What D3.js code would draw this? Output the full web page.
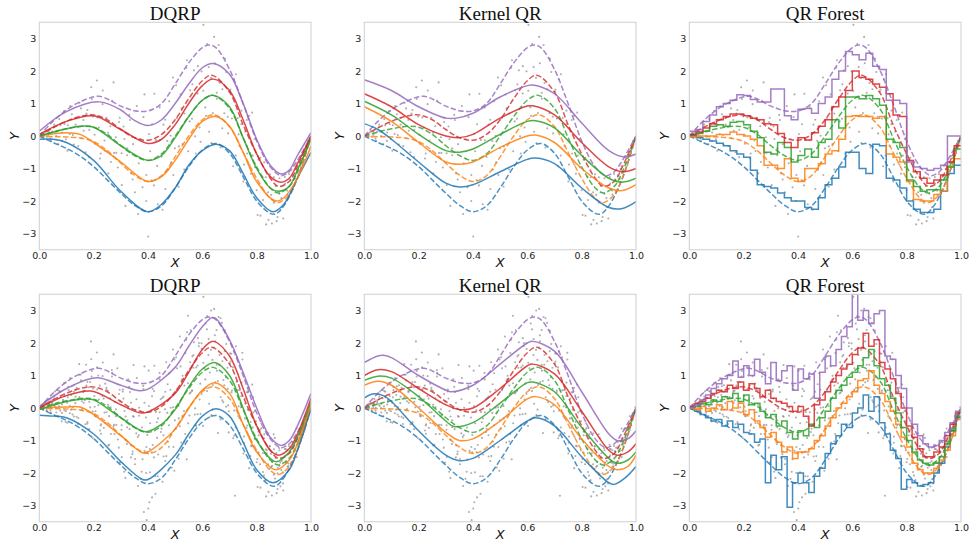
<!DOCTYPE html>
<html lang="en">
<head>
<meta charset="UTF-8">
<title>Quantile regression comparison</title>
<script src="https://cdn.jsdelivr.net/npm/d3@7"></script>
<style>
  body { margin: 0; background: #fff; }
</style>
</head>
<body>
<svg id="chart" width="969" height="544"></svg>
<script>
const taus = [0.05, 0.25, 0.5, 0.75, 0.95];
const colors = ['#1f77b4', '#ff7f0e', '#2ca02c', '#d62728', '#9467bd'];
const methods = ['DQRP', 'Kernel QR', 'QR Forest'];
const xTicks = [0, 0.2, 0.4, 0.6, 0.8, 1.0];
const yTicks = [-3, -2, -1, 0, 1, 2, 3];

// true conditional quantiles (dashed), one per tau
const truth = [
  [[0,0],[0.05,-0.2],[0.1,-0.38],[0.15,-0.62],[0.2,-0.94],[0.25,-1.35],[0.3,-1.76],[0.35,-2.13],[0.4,-2.33],[0.45,-2.15],[0.5,-1.6],[0.55,-0.95],[0.6,-0.43],[0.65,-0.23],[0.7,-0.53],[0.75,-1.25],[0.8,-2.0],[0.85,-2.38],[0.87,-2.4],[0.9,-2.15],[0.95,-1.3],[1,0]],
  [[0,0],[0.05,-0.02],[0.1,-0.03],[0.15,-0.06],[0.2,-0.17],[0.25,-0.45],[0.3,-0.84],[0.35,-1.2],[0.4,-1.4],[0.45,-1.22],[0.5,-0.64],[0.55,0.0],[0.6,0.5],[0.645,0.65],[0.7,0.29],[0.75,-0.5],[0.8,-1.3],[0.85,-1.92],[0.88,-2.05],[0.92,-1.8],[0.95,-1.3],[1,0]],
  [[0,0],[0.05,0.12],[0.1,0.22],[0.16,0.3],[0.2,0.27],[0.25,0.05],[0.3,-0.3],[0.35,-0.6],[0.4,-0.75],[0.45,-0.55],[0.5,0.0],[0.55,0.6],[0.6,1.1],[0.64,1.25],[0.7,0.85],[0.75,-0.05],[0.8,-0.95],[0.85,-1.6],[0.88,-1.75],[0.92,-1.55],[0.95,-1.1],[1,0]],
  [[0,0],[0.05,0.25],[0.1,0.45],[0.15,0.6],[0.2,0.65],[0.25,0.5],[0.3,0.2],[0.35,-0.05],[0.4,-0.13],[0.45,0.05],[0.5,0.5],[0.55,1.15],[0.6,1.7],[0.635,1.87],[0.7,1.35],[0.75,0.35],[0.8,-0.55],[0.85,-1.3],[0.88,-1.55],[0.92,-1.4],[0.95,-0.95],[1,0]],
  [[0,0],[0.05,0.45],[0.1,0.8],[0.15,1.05],[0.22,1.22],[0.3,0.92],[0.35,0.78],[0.4,0.77],[0.45,1.0],[0.5,1.6],[0.55,2.25],[0.6,2.72],[0.625,2.8],[0.65,2.72],[0.7,2.05],[0.75,1.0],[0.8,-0.15],[0.85,-0.95],[0.89,-1.22],[0.92,-1.1],[0.95,-0.75],[1,0]]
];

// DQRP estimates
const dqrpTop = [
  [[0,-0.1],[0.05,-0.1],[0.1,-0.2],[0.2,-0.75],[0.3,-1.7],[0.4,-2.33],[0.45,-2.1],[0.5,-1.6],[0.55,-0.9],[0.6,-0.45],[0.65,-0.25],[0.7,-0.45],[0.75,-1.15],[0.8,-1.9],[0.86,-2.33],[0.9,-2.1],[0.95,-1.3],[1,-0.5]],
  [[0,0.0],[0.1,0.1],[0.15,0.05],[0.2,-0.2],[0.3,-0.8],[0.4,-1.4],[0.45,-1.25],[0.5,-0.75],[0.55,-0.1],[0.6,0.45],[0.65,0.6],[0.7,0.3],[0.75,-0.5],[0.8,-1.4],[0.87,-2.0],[0.9,-1.9],[0.95,-1.3],[1,-0.3]],
  [[0,0.0],[0.1,0.22],[0.15,0.3],[0.2,0.27],[0.3,-0.3],[0.4,-0.75],[0.45,-0.6],[0.5,-0.05],[0.55,0.6],[0.6,1.1],[0.64,1.25],[0.7,0.9],[0.75,-0.05],[0.8,-1.0],[0.85,-1.6],[0.88,-1.7],[0.92,-1.55],[0.95,-1.05],[1,-0.1]],
  [[0,0.05],[0.1,0.45],[0.2,0.62],[0.3,0.2],[0.4,-0.23],[0.45,-0.1],[0.5,0.35],[0.55,1.0],[0.6,1.55],[0.64,1.75],[0.7,1.4],[0.75,0.5],[0.8,-0.55],[0.85,-1.25],[0.89,-1.42],[0.92,-1.3],[0.95,-0.85],[1,0.0]],
  [[0,0.15],[0.1,0.75],[0.22,1.05],[0.3,0.8],[0.35,0.48],[0.4,0.32],[0.45,0.5],[0.5,1.0],[0.55,1.6],[0.6,2.1],[0.64,2.23],[0.7,1.9],[0.75,1.0],[0.8,-0.1],[0.85,-0.9],[0.89,-1.17],[0.92,-1.05],[0.95,-0.6],[1,0.1]]
];
const dqrpBottom = [
  [[0,-0.22],[0.05,-0.25],[0.1,-0.3],[0.2,-0.8],[0.3,-1.65],[0.38,-2.2],[0.4,-2.2],[0.5,-1.45],[0.55,-0.8],[0.6,-0.25],[0.65,-0.02],[0.7,-0.25],[0.75,-1.05],[0.8,-1.9],[0.86,-2.3],[0.92,-1.9],[0.95,-1.3],[1,0.0]],
  [[0,0.0],[0.1,0.03],[0.15,0.03],[0.2,-0.2],[0.3,-0.85],[0.38,-1.38],[0.4,-1.35],[0.5,-0.65],[0.55,0.0],[0.6,0.55],[0.645,0.78],[0.7,0.45],[0.75,-0.5],[0.8,-1.35],[0.87,-1.9],[0.92,-1.6],[0.95,-1.1],[1,0.1]],
  [[0,-0.05],[0.1,0.2],[0.17,0.28],[0.2,0.25],[0.3,-0.3],[0.39,-0.73],[0.45,-0.5],[0.5,-0.05],[0.55,0.65],[0.6,1.2],[0.645,1.4],[0.7,1.0],[0.75,0.0],[0.8,-1.0],[0.87,-1.65],[0.92,-1.35],[0.95,-0.9],[1,0.2]],
  [[0,0.0],[0.1,0.38],[0.19,0.52],[0.3,0.1],[0.37,-0.15],[0.4,-0.12],[0.5,0.45],[0.55,1.1],[0.6,1.8],[0.64,2.05],[0.7,1.6],[0.75,0.6],[0.8,-0.55],[0.85,-1.3],[0.88,-1.45],[0.92,-1.25],[0.95,-0.8],[1,0.3]],
  [[0,0.05],[0.1,0.6],[0.21,0.93],[0.3,0.7],[0.37,0.53],[0.4,0.58],[0.5,1.25],[0.55,1.9],[0.6,2.5],[0.635,2.78],[0.65,2.75],[0.7,2.1],[0.75,1.1],[0.8,0.0],[0.85,-0.9],[0.89,-1.15],[0.92,-1.0],[0.95,-0.55],[1,0.45]]
];

// Kernel QR estimates
const kernelTop = [
  [[0,0.38],[0.05,0.2],[0.1,-0.1],[0.2,-0.8],[0.3,-1.45],[0.35,-1.57],[0.4,-1.5],[0.5,-1.1],[0.6,-0.72],[0.63,-0.68],[0.7,-0.85],[0.8,-1.6],[0.9,-2.2],[0.95,-2.23],[1,-2.02]],
  [[0,0.9],[0.1,0.45],[0.2,-0.2],[0.3,-0.8],[0.35,-0.87],[0.4,-0.8],[0.5,-0.35],[0.6,0.0],[0.63,0.03],[0.7,-0.2],[0.8,-1.0],[0.9,-1.6],[0.95,-1.68],[1,-1.5]],
  [[0,1.07],[0.1,0.65],[0.2,0.05],[0.3,-0.45],[0.35,-0.5],[0.4,-0.4],[0.5,0.05],[0.6,0.45],[0.63,0.47],[0.7,0.25],[0.8,-0.6],[0.9,-1.3],[0.95,-1.42],[1,-1.3]],
  [[0,1.3],[0.1,0.9],[0.2,0.35],[0.3,0.0],[0.35,-0.05],[0.4,0.05],[0.5,0.55],[0.6,0.92],[0.62,0.93],[0.7,0.65],[0.8,-0.2],[0.9,-0.95],[0.95,-1.1],[1,-1.0]],
  [[0,1.73],[0.1,1.4],[0.2,0.9],[0.3,0.55],[0.34,0.55],[0.4,0.7],[0.5,1.2],[0.6,1.55],[0.62,1.57],[0.7,1.3],[0.8,0.4],[0.9,-0.45],[0.96,-0.65],[1,-0.55]]
];
const kernelBottom = [
  [[0,0.3],[0.03,0.43],[0.07,0.38],[0.1,0.2],[0.2,-0.7],[0.3,-1.45],[0.35,-1.62],[0.4,-1.55],[0.5,-1.0],[0.6,-0.4],[0.63,-0.3],[0.7,-0.55],[0.8,-1.5],[0.9,-2.3],[0.92,-2.35],[0.96,-2.15],[1,-1.8]],
  [[0,0.7],[0.05,0.82],[0.1,0.7],[0.2,0.0],[0.3,-0.75],[0.35,-1.0],[0.4,-0.95],[0.5,-0.4],[0.6,0.28],[0.63,0.35],[0.7,0.1],[0.8,-0.95],[0.9,-1.8],[0.93,-1.9],[0.97,-1.8],[1,-1.45]],
  [[0,0.85],[0.05,0.98],[0.1,0.92],[0.2,0.35],[0.3,-0.4],[0.33,-0.57],[0.4,-0.45],[0.5,0.15],[0.6,0.78],[0.62,0.8],[0.7,0.5],[0.8,-0.6],[0.9,-1.55],[0.93,-1.7],[0.97,-1.6],[1,-1.35]],
  [[0,1.0],[0.05,1.18],[0.1,1.12],[0.2,0.6],[0.3,0.1],[0.35,-0.05],[0.4,0.0],[0.5,0.6],[0.6,1.3],[0.62,1.35],[0.7,1.05],[0.8,-0.1],[0.9,-1.3],[0.93,-1.45],[0.97,-1.35],[1,-1.1]],
  [[0,1.4],[0.05,1.6],[0.07,1.62],[0.1,1.55],[0.2,1.0],[0.3,0.55],[0.32,0.5],[0.4,0.7],[0.5,1.35],[0.6,2.0],[0.62,2.05],[0.7,1.75],[0.8,0.5],[0.9,-0.8],[0.93,-1.0],[0.97,-0.95],[1,-0.7]]
];

// QR Forest step estimates, top row: 40 bins of width 0.025
const forestTop = [
  [0.0,-0.05,-0.1,-0.15,-0.22,-0.3,-0.45,-0.55,-0.65,-1.05,-1.5,-1.55,-1.6,-1.75,-1.9,-2.0,-2.0,-2.2,-2.25,-1.9,-1.5,-1.3,-0.95,-0.5,-0.5,-1.0,-1.15,-0.25,-0.3,-1.3,-1.35,-1.6,-2.0,-2.25,-2.35,-2.35,-2.25,-1.7,-1.15,-0.9],
  [-0.02,0.0,0.0,0.0,0.05,0.05,0.12,0.05,0.0,-0.1,-0.3,-0.9,-0.9,-1.0,-0.7,-1.3,-1.4,-1.0,-1.0,-0.85,-0.55,-0.45,-0.1,0.6,0.62,0.6,0.6,0.55,0.6,-0.55,-0.65,-0.8,-1.4,-1.95,-2.0,-2.0,-1.8,-1.7,-0.95,-0.7],
  [0.02,0.08,0.15,0.3,0.35,0.3,0.42,0.45,0.35,0.15,-0.05,-0.5,-0.55,-0.2,-0.35,-0.8,-0.6,-0.4,-0.65,-0.2,-0.1,0.5,0.25,1.2,1.2,1.15,1.25,1.15,0.95,-0.1,-0.2,-0.35,-1.35,-1.55,-1.7,-1.65,-1.65,-1.35,-0.95,-0.4],
  [0.05,0.12,0.25,0.38,0.5,0.6,0.68,0.68,0.62,0.55,0.5,0.38,0.35,0.08,-0.2,-0.35,-0.05,-0.12,0.1,0.3,0.5,0.9,1.2,1.4,2.0,1.8,1.75,1.6,1.5,1.3,0.65,0.6,-0.75,-1.1,-1.3,-1.45,-1.35,-1.2,-0.8,-0.3],
  [0.15,0.2,0.45,0.65,0.9,1.0,1.1,1.27,1.25,1.12,1.05,1.05,1.45,1.45,0.62,0.5,0.82,0.85,0.7,1.0,1.2,1.75,2.0,2.6,2.5,2.35,2.55,2.15,2.05,1.1,1.1,1.0,-0.8,-0.95,-1.0,-1.05,-1.0,-0.9,0.0,0.0]
];
// QR Forest step estimates, bottom row: 50 bins of width 0.02
const forestBottom = [
  [0.0,-0.1,-0.2,-0.3,-0.4,-0.35,-0.55,-0.4,-0.6,-0.5,-0.75,-0.8,-1.05,-0.95,-2.3,-1.45,-1.9,-1.5,-3.05,-2.3,-2.0,-2.3,-2.6,-2.1,-1.85,-1.4,-1.1,-0.85,-0.5,-0.6,-0.15,0.0,0.4,-0.1,0.35,-0.45,-0.8,-1.3,-1.55,-2.5,-2.2,-2.3,-2.4,-2.35,-2.3,-2.0,-1.7,-1.2,-0.7,-0.3],
  [0.0,-0.05,0.05,-0.1,0.0,0.1,-0.05,0.2,0.0,0.15,-0.2,-0.05,-0.4,-0.6,-0.9,-0.75,-1.05,-1.35,-1.2,-1.55,-1.35,-1.35,-1.25,-1.0,-0.85,-0.55,-0.3,0.0,0.15,0.35,0.5,0.85,0.9,1.15,0.7,0.45,0.2,-0.1,-0.5,-0.9,-1.2,-1.7,-1.9,-2.0,-2.0,-1.85,-1.6,-1.3,-0.85,-0.35],
  [0.02,0.05,0.15,0.1,0.25,0.2,0.35,0.3,0.45,0.2,0.4,0.1,0.15,-0.1,-0.3,-0.2,-0.55,-0.4,-0.75,-0.95,-0.7,-0.85,-0.5,-0.6,-0.3,-0.1,0.3,0.55,0.7,0.95,1.1,1.3,1.55,1.8,1.3,0.9,0.7,0.3,-0.15,-0.6,-1.0,-1.35,-1.6,-1.7,-1.75,-1.7,-1.5,-1.1,-0.7,-0.25],
  [0.05,0.12,0.2,0.3,0.45,0.55,0.5,0.7,0.6,0.8,0.55,0.75,0.6,0.35,0.55,0.3,0.2,0.15,0.05,-0.1,0.05,-0.25,-0.55,0.1,0.25,0.5,0.8,1.0,1.2,1.35,1.65,1.85,2.3,1.9,2.1,1.4,1.2,0.9,0.45,0.0,-0.55,-0.9,-1.25,-1.5,-1.5,-1.35,-1.2,-0.85,-0.5,-0.15],
  [0.02,0.1,0.25,0.4,0.6,0.75,0.9,1.0,1.45,0.95,1.3,1.0,1.5,1.1,0.75,1.4,0.85,1.15,1.3,0.55,1.2,0.9,1.05,0.3,1.1,1.6,1.3,1.8,2.2,2.5,3.5,2.7,3.0,2.6,2.9,3.0,1.6,1.5,1.0,0.6,0.0,-0.5,-0.85,-1.1,-1.2,-1.15,-1.0,-0.75,-0.45,-0.1]
];

// observed samples (x, y), top row
const topPoints = [
  [0.005,0.02],[0.012,-0.03],[0.02,0.11],[0.027,-0.02],[0.034,0.13],[0.041,-0.08],[0.048,0.14],[0.055,0.35],[0.062,0.0],[0.07,-0.25],[0.077,0.33],[0.084,0.11],[0.091,0.77],[0.098,-0.1],[0.105,0.33],[0.112,0.06],[0.12,0.67],[0.127,-0.26],[0.134,0.56],[0.141,0.28],[0.148,1.02],[0.155,-0.07],[0.162,0.49],[0.17,-0.5],[0.177,0.8],[0.184,0.19],[0.191,1.5],[0.198,0.6],[0.205,-0.24],[0.212,1.71],[0.219,0.26],[0.226,-0.54],[0.233,0.98],[0.24,-0.14],[0.247,0.56],[0.254,-1.15],[0.261,0.3],[0.268,1.08],[0.275,-0.52],[0.282,-0.04],[0.289,-0.97],[0.296,0.56],[0.303,-0.53],[0.31,0.29],[0.317,-2.15],[0.324,-0.38],[0.331,0.65],[0.338,-1.15],[0.345,-0.25],[0.352,-1.73],[0.359,0.92],[0.366,-0.84],[0.373,-0.1],[0.38,-1.58],[0.387,1.28],[0.394,-1.2],[0.401,-3.09],[0.408,-0.47],[0.415,0.36],[0.422,-1.52],[0.429,-0.12],[0.436,-2.1],[0.443,0.88],[0.45,-0.64],[0.457,0.35],[0.464,-1.63],[0.471,-0.15],[0.478,1.07],[0.485,-0.82],[0.492,1.8],[0.499,-0.38],[0.506,0.55],[0.513,-1.56],[0.52,1.28],[0.527,-0.25],[0.534,0.69],[0.541,2.1],[0.548,-0.47],[0.555,1.41],[0.562,0.53],[0.569,2.02],[0.576,-0.54],[0.583,1.31],[0.59,0.26],[0.597,1.99],[0.604,3.42],[0.611,0.88],[0.618,2.83],[0.625,0.13],[0.632,1.79],[0.639,0.71],[0.646,2.24],[0.653,1.33],[0.66,2.8],[0.667,-0.35],[0.674,1.44],[0.681,0.7],[0.688,1.97],[0.695,0.08],[0.702,1.37],[0.709,0.54],[0.716,1.74],[0.723,-0.6],[0.73,0.55],[0.737,-0.31],[0.744,0.78],[0.751,-1.4],[0.758,0.14],[0.765,-0.54],[0.772,0.62],[0.779,-1.16],[0.786,-0.6],[0.793,-0.09],[0.8,-1.67],[0.807,-0.73],[0.814,-2.45],[0.821,-1.25],[0.828,-0.81],[0.835,-2.72],[0.842,-1.73],[0.849,-1.18],[0.856,-2.69],[0.863,-2.05],[0.87,-1.54],[0.877,-2.49],[0.884,-1.3],[0.891,-1.91],[0.898,-2.54],[0.905,-1.46],[0.912,-1.68],[0.919,-1.17],[0.926,-1.71],[0.933,-1.21],[0.94,-1.32],[0.947,-0.93],[0.954,-1.18],[0.961,-0.84],[0.968,-0.91],[0.975,-0.48],[0.982,-0.46],[0.989,-0.15],[0.996,-0.1],
  [0.0035,0.0],[0.0135,-0.01],[0.0235,0.16],[0.0335,0.04],[0.0435,-0.15],[0.0535,0.27],[0.0635,0.13],[0.0735,0.52],[0.0835,-0.15],[0.0935,0.37],[0.1035,-0.45],[0.1135,0.92],[0.1235,0.03],[0.1335,0.35],[0.1435,-0.31],[0.1535,0.85],[0.1635,0.16],[0.1735,0.69],[0.1835,-0.65],[0.1935,1.14],[0.2035,0.04],[0.2135,0.57],[0.2235,-0.69],[0.2335,1.4],[0.2435,-0.46],[0.2535,0.1],[0.2635,-0.8],[0.2735,1.65],[0.2835,-0.52],[0.2935,0.43],[0.3035,-1.51],[0.3135,-0.09],[0.3235,-0.59],[0.3335,0.49],[0.3435,-1.34],[0.3535,-0.06],[0.3635,-2.4],[0.3735,-0.7],[0.3835,0.58],[0.3935,-2.0],[0.4035,0.06],[0.4135,-1.36],[0.4235,1.3],[0.4335,-0.92],[0.4435,-0.13],[0.4535,-2.27],[0.4635,0.5],[0.4735,-1.04],[0.4835,0.01],[0.4935,-1.2],[0.5035,1.56],[0.5135,-0.32],[0.5235,0.85],[0.5335,-1.03],[0.5435,2.33],[0.5535,0.45],[0.5635,1.59],[0.5735,-0.01],[0.5835,2.15],[0.5935,-0.18],[0.6035,1.39],[0.6135,0.62],[0.6235,2.12],[0.6335,-0.22],[0.6435,3.05],[0.6535,1.15],[0.6635,1.63],[0.6735,0.24],[0.6835,2.38],[0.6935,0.59],[0.7035,1.43],[0.7135,-0.93],[0.7235,1.9],[0.7335,0.05],[0.7435,0.36],[0.7535,-0.88],[0.7635,0.49],[0.7735,-0.88],[0.7835,0.72],[0.7935,-0.96],[0.8035,-2.43],[0.8135,-0.67],[0.8235,-1.97],[0.8335,-1.27],[0.8435,-2.58],[0.8535,-1.81],[0.8635,-1.27],[0.8735,-2.62],[0.8835,-1.78],[0.8935,-2.19],[0.9035,-1.26],[0.9135,-1.8],[0.9235,-1.34],[0.9335,-1.64],[0.9435,-1.01],[0.9535,-1.11],[0.9635,-0.62],[0.9735,-0.73],[0.9835,-0.35],[0.9935,-0.2]
];
// the bottom row uses a larger sample: the points above plus these
const bottomExtra = [
  [0.0025,0.02],[0.0075,-0.03],[0.0125,0.09],[0.0175,0.02],[0.0225,0.12],[0.0275,-0.1],[0.0325,0.09],[0.0375,0.28],[0.0425,0.01],[0.0475,0.19],
  [0.0525,0.11],[0.0575,0.51],[0.0625,-0.14],[0.0675,0.3],[0.0725,0.05],[0.0775,0.5],[0.0825,-0.41],[0.0875,0.25],[0.0925,-0.07],[0.0975,0.79],
  [0.1025,0.16],[0.1075,0.55],[0.1125,-0.16],[0.1175,0.4],[0.1225,-0.2],[0.1275,0.7],[0.1325,0.15],[0.1375,0.62],[0.1425,-0.49],[0.1475,0.34],
  [0.1525,1.03],[0.1575,-0.03],[0.1625,0.53],[0.1675,0.24],[0.1725,1.33],[0.1775,-0.43],[0.1825,0.64],[0.1875,0.02],[0.1925,0.97],[0.1975,-0.93],
  [0.2025,0.37],[0.2075,-0.26],[0.2125,1.25],[0.2175,0.09],[0.2225,0.69],[0.2275,-0.5],[0.2325,0.37],[0.2375,-0.61],[0.2425,0.75],[0.2475,-0.13],
  [0.2525,0.53],[0.2575,-1.13],[0.2625,0.02],[0.2675,0.97],[0.2725,-0.57],[0.2775,0.19],[0.2825,-0.25],[0.2875,1.22],[0.2925,-1.22],[0.2975,0.21],
  [0.3025,-0.67],[0.3075,0.57],[0.3125,-1.96],[0.3175,-0.26],[0.3225,-1.11],[0.3275,0.88],[0.3325,-0.65],[0.3375,0.16],[0.3425,-1.42],[0.3475,-0.27],
  [0.3525,-1.57],[0.3575,0.27],[0.3625,-0.89],[0.3675,0.01],[0.3725,-2.18],[0.3775,-0.6],[0.3825,0.68],[0.3875,-1.32],[0.3925,-0.29],[0.3975,-0.83],
  [0.4025,1.15],[0.4075,-1.98],[0.4125,-0.07],[0.4175,-1.14],[0.4225,0.52],[0.4275,-2.64],[0.4325,-0.44],[0.4375,-1.43],[0.4425,1.08],[0.4475,-0.74],
  [0.4525,0.31],[0.4575,-1.49],[0.4625,-0.04],[0.4675,-1.48],[0.4725,0.73],[0.4775,-0.53],[0.4825,0.56],[0.4875,-1.83],[0.4925,0.02],[0.4975,1.49],
  [0.5025,-0.64],[0.5075,0.57],[0.5125,0.06],[0.5175,2.2],[0.5225,-1.06],[0.5275,0.99],[0.5325,-0.09],[0.5375,1.69],[0.5425,-1.58],[0.5475,0.76],
  [0.5525,-0.23],[0.5575,2.39],[0.5625,0.54],[0.5675,1.63],[0.5725,-0.2],[0.5775,1.25],[0.5825,-0.19],[0.5875,2.0],[0.5925,0.75],[0.5975,1.82],
  [0.6025,-0.55],[0.6075,1.22],[0.6125,2.6],[0.6175,0.52],[0.6225,1.63],[0.6275,1.09],[0.6325,3.0],[0.6375,-0.05],[0.6425,1.86],[0.6475,0.79],
  [0.6525,2.4],[0.6575,-0.77],[0.6625,1.33],[0.6675,0.33],[0.6725,2.62],[0.6775,0.86],[0.6825,1.75],[0.6875,0.04],[0.6925,1.24],[0.6975,-0.1],
  [0.7025,1.68],[0.7075,0.48],[0.7125,1.25],[0.7175,-0.85],[0.7225,0.53],[0.7275,1.56],[0.7325,-0.25],[0.7375,0.55],[0.7425,0.02],[0.7475,1.49],
  [0.7525,-1.07],[0.7575,0.29],[0.7625,-0.61],[0.7675,0.48],[0.7725,-1.85],[0.7775,-0.43],[0.7825,-1.18],[0.7875,0.33],[0.7925,-0.93],[0.7975,-0.41],
  [0.8025,-1.57],[0.8075,-0.84],[0.8125,-1.73],[0.8175,-0.62],[0.8225,-1.39],[0.8275,-0.93],[0.8325,-2.22],[0.8375,-1.39],[0.8425,-0.78],[0.8475,-1.87],
  [0.8525,-1.41],[0.8575,-1.66],[0.8625,-0.81],[0.8675,-2.17],[0.8725,-1.39],[0.8775,-1.84],[0.8825,-1.23],[0.8875,-2.41],[0.8925,-1.63],[0.8975,-1.98],
  [0.9025,-1.13],[0.9075,-1.67],[0.9125,-1.3],[0.9175,-1.79],[0.9225,-1.33],[0.9275,-1.67],[0.9325,-1.05],[0.9375,-1.32],[0.9425,-1.01],[0.9475,-1.51],
  [0.9525,-1.03],[0.9575,-0.65],[0.9625,-0.94],[0.9675,-0.65],[0.9725,-0.62],[0.9775,-0.25],[0.9825,-0.53],[0.9875,-0.22],[0.9925,-0.2],[0.9975,0.02],
  [0.19,2.05],[0.385,-3.2],[0.395,-3.45],[0.405,-2.9],[0.72,-2.7],[0.415,-2.75],
  [0.007,-0.01],[0.017,0.13],[0.027,-0.08],[0.037,0.12],[0.047,0.24],[0.057,0.06],[0.067,0.55],[0.077,-0.08],[0.087,0.19],[0.097,-0.43],
  [0.107,0.65],[0.117,-0.05],[0.127,0.5],[0.137,-0.27],[0.147,1.35],[0.157,0.21],[0.167,0.53],[0.177,-0.48],[0.187,0.8],[0.197,-0.11],
  [0.207,-0.1],[0.217,1.0],[0.227,-0.79],[0.237,0.29],[0.247,0.62],[0.257,-0.25],[0.267,1.17],[0.277,-0.8],[0.287,-0.21],[0.297,-1.68],
  [0.307,0.51],[0.317,-0.98],[0.327,-0.01],[0.337,-1.52],[0.347,1.32],[0.357,-0.78],[0.367,-0.24],[0.377,-1.96],[0.387,0.16],[0.397,-1.36],
  [0.407,-1.26],[0.417,0.59],[0.427,-2.1],[0.437,-0.32],[0.447,0.27],[0.457,-0.84],[0.467,1.41],[0.477,-1.19],[0.487,-0.14],[0.497,-1.93],
  [0.507,1.22],[0.517,-0.56],[0.527,0.89],[0.537,-0.8],[0.547,2.84],[0.557,0.48],[0.567,1.24],[0.577,-0.54],[0.587,1.9],[0.597,0.43],
  [0.607,0.57],[0.617,2.42],[0.627,-0.28],[0.637,1.48],[0.647,2.05],[0.657,0.83],[0.667,2.76],[0.677,0.18],[0.687,0.95],[0.697,-0.75],
  [0.707,1.67],[0.717,-0.08],[0.727,0.81],[0.737,-0.77],[0.747,1.7],[0.757,-0.32],[0.767,-0.05],[0.777,-1.48],[0.787,-0.14],[0.797,-1.3],
  [0.807,-1.37],[0.817,-0.47],[0.827,-2.08],[0.837,-1.3],[0.847,-1.18],[0.857,-1.78],[0.867,-0.92],[0.877,-2.01],[0.887,-1.68],[0.897,-2.32],
  [0.907,-1.26],[0.917,-1.71],[0.927,-1.22],[0.937,-1.55],[0.947,-0.63],[0.957,-0.98],[0.967,-0.65],[0.977,-0.68],[0.987,-0.19],[0.997,-0.1]
];
const bottomPoints = topPoints.concat(bottomExtra);

const svg = d3.select('#chart');
const panelW = 271.7, panelH = 227.5;
const lefts = [39.3, 364.3, 689.3];
const tops = [22.25, 294.25];

const rows = [
  { points: topPoints, fits: [dqrpTop, kernelTop], forest: forestTop },
  { points: bottomPoints, fits: [dqrpBottom, kernelBottom], forest: forestBottom }
];

const x = d3.scaleLinear().domain([0, 1]).range([0, panelW]);
const y = d3.scaleLinear().domain([-3.5, 3.5]).range([panelH, 0]);

const smooth = d3.line()
  .x(d => x(d[0]))
  .y(d => y(d[1]))
  .curve(d3.curveCatmullRom.alpha(0.5));
const stepped = d3.line()
  .x(d => x(d[0]))
  .y(d => y(d[1]))
  .curve(d3.curveStepAfter);

function stepPoints(vals) {
  let w = 1 / vals.length;
  let pts = vals.map((v, i) => [i * w, v]);
  pts.push([1, vals[vals.length - 1]]);
  return pts;
}

rows.forEach((row, r) => {
  methods.forEach((name, c) => {
    let g = svg.append('g')
      .attr('transform', `translate(${lefts[c]},${tops[r]})`);
    let clipId = `clip-${r}-${c}`;
    g.append('clipPath').attr('id', clipId)
      .append('rect').attr('width', panelW).attr('height', panelH);

    let plot = g.append('g').attr('clip-path', `url(#${clipId})`);

    plot.selectAll('circle')
      .data(row.points)
      .join('circle')
      .attr('cx', d => x(d[0]))
      .attr('cy', d => y(d[1]))
      .attr('r', 1.05)
      .attr('fill', '#7a7a7a')
      .attr('fill-opacity', 0.6);

    // true quantiles
    plot.selectAll('path.truth')
      .data(truth)
      .join('path')
      .attr('class', 'truth')
      .attr('d', smooth)
      .attr('fill', 'none')
      .attr('stroke', (d, i) => colors[i])
      .attr('stroke-width', 1.5)
      .attr('stroke-opacity', 0.8)
      .attr('stroke-dasharray', '5.5,2.4');

    // estimates
    if (c < 2) {
      plot.selectAll('path.fit')
        .data(row.fits[c])
        .join('path')
        .attr('class', 'fit')
        .attr('d', smooth)
        .attr('fill', 'none')
        .attr('stroke', (d, i) => colors[i])
        .attr('stroke-width', 1.5)
        .attr('stroke-opacity', 0.85);
    } else {
      plot.selectAll('path.fit')
        .data(row.forest)
        .join('path')
        .attr('class', 'fit')
        .attr('d', d => stepped(stepPoints(d)))
        .attr('fill', 'none')
        .attr('stroke', (d, i) => colors[i])
        .attr('stroke-width', 1.5)
        .attr('stroke-opacity', 0.85);
    }

    g.append('rect')
      .attr('width', panelW)
      .attr('height', panelH)
      .attr('fill', 'none')
      .attr('stroke', '#cfcfcf')
      .attr('stroke-width', 1);

    let xAxis = g.append('g')
      .attr('transform', `translate(0,${panelH})`)
      .call(d3.axisBottom(x).tickValues(xTicks).tickFormat(d3.format('.1f')).tickSize(0).tickPadding(3));
    let yAxis = g.append('g')
      .call(d3.axisLeft(y).tickValues(yTicks).tickFormat(d3.format('d')).tickSize(0).tickPadding(3));
    [xAxis, yAxis].forEach(a => {
      a.select('.domain').remove();
      a.selectAll('text')
        .attr('fill', '#222')
        .style('font-family', 'DejaVu Sans, sans-serif')
        .style('font-size', '9.5px');
    });

    g.append('text')
      .attr('x', panelW / 2)
      .attr('y', -2.5)
      .attr('text-anchor', 'middle')
      .style('font-family', 'Liberation Serif, Times New Roman, serif')
      .style('font-size', '19px')
      .attr('fill', '#111')
      .text(name);

    g.append('text')
      .attr('x', panelW / 2)
      .attr('y', panelH + 17.5)
      .attr('text-anchor', 'middle')
      .style('font-family', 'DejaVu Sans, sans-serif')
      .style('font-style', 'italic')
      .style('font-size', '13px')
      .attr('fill', '#111')
      .text('X');

    g.append('text')
      .attr('transform', `translate(-20,${panelH / 2}) rotate(-90)`)
      .attr('text-anchor', 'middle')
      .style('font-family', 'DejaVu Sans, sans-serif')
      .style('font-style', 'italic')
      .style('font-size', '13px')
      .attr('fill', '#111')
      .text('Y');
  });
});
</script>
</body>
</html>
